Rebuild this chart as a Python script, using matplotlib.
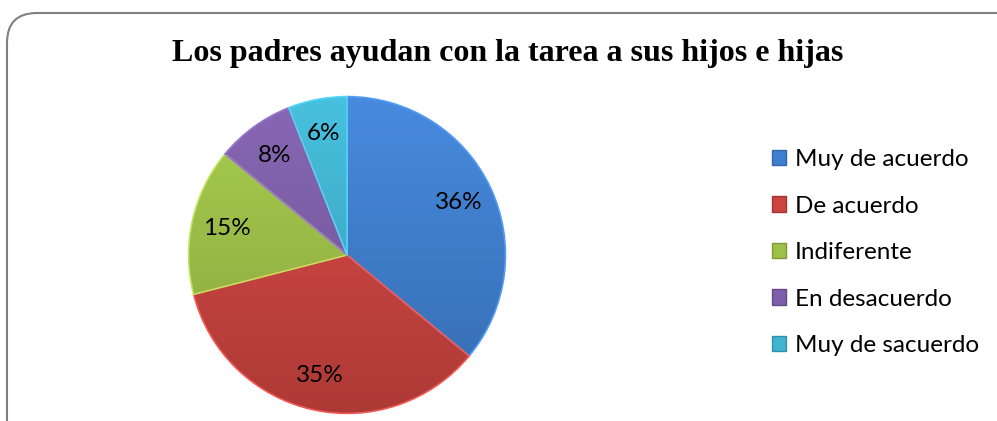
import matplotlib
matplotlib.use("Agg")
import matplotlib.pyplot as plt
import numpy as np
from matplotlib.patches import FancyBboxPatch, Patch, PathPatch
from matplotlib.colors import to_rgb

# data
categorias = ["Muy de acuerdo", "De acuerdo", "Indiferente", "En desacuerdo", "Muy de sacuerdo"]
valores = [36, 35, 15, 8, 6]
colores = ["#3f7fcf", "#cc4440", "#9dc047", "#7d5ea8", "#3fb3d0"]
titulo = "Los padres ayudan con la tarea a sus hijos e hijas"

fig = plt.figure(figsize=(9.97, 4.21), dpi=100)

# rounded chart border
borde = FancyBboxPatch((7 / 997, -30 / 421), 1020 / 997, 438 / 421,
                       boxstyle="round,pad=0,rounding_size=0.03",
                       transform=fig.transFigure, facecolor="none",
                       edgecolor="#808080", linewidth=1.5, mutation_aspect=997 / 421,
                       zorder=-1)
fig.patches.append(borde)

fig.text(0.509, 0.872, titulo, ha="center", va="center", fontsize=23,
         fontweight="bold", family="Liberation Serif")

ax = fig.add_axes([0.1876, 0.0143, 0.321, 0.760])
wedges, _, autotexts = ax.pie(valores, colors=colores, startangle=90, counterclock=False,
                              autopct="%1.0f%%", pctdistance=0.78,
                              wedgeprops=dict(edgecolor="none"),
                              textprops=dict(fontsize=17.5, family="Lato", color="black"))

# soft vertical shading on each slice
grad = np.linspace(1.0, 0.0, 256).reshape(-1, 1)
for w, c in zip(wedges, colores):
    base = np.array(to_rgb(c))
    light = np.clip(base * 1.05 + 0.02, 0, 1)
    dark = base * 0.85
    img = light[None, None, :] * grad[:, :, None] + dark[None, None, :] * (1 - grad[:, :, None])
    im = ax.imshow(img, extent=(-1, 1, -1, 1), aspect="auto", zorder=1.5)
    im.set_clip_path(w)
    w.set_zorder(1)
for w, c in zip(wedges, colores):
    ax.add_patch(PathPatch(w.get_path(), fill=False,
                           edgecolor=np.clip(np.array(to_rgb(c)) * 1.12 + 0.05, 0, 1),
                           linewidth=1.2, zorder=2, transform=w.get_transform()))
for t in autotexts:
    t.set_zorder(3)
ax.set_xlim(-1.01, 1.01)
ax.set_ylim(-1.01, 1.01)
ax.set_aspect("equal")
ax.axis("off")

handles = [Patch(facecolor=c, edgecolor=np.array(to_rgb(c)) * 0.8) for c in colores]
fig.legend(handles, categorias, loc="center left", bbox_to_anchor=(0.752, 0.40),
           frameon=False, prop=dict(family="Lato", size=17.5),
           handlelength=0.6, handleheight=0.6, handletextpad=0.35, labelspacing=1.05)

fig.savefig("out.png", dpi=100)
